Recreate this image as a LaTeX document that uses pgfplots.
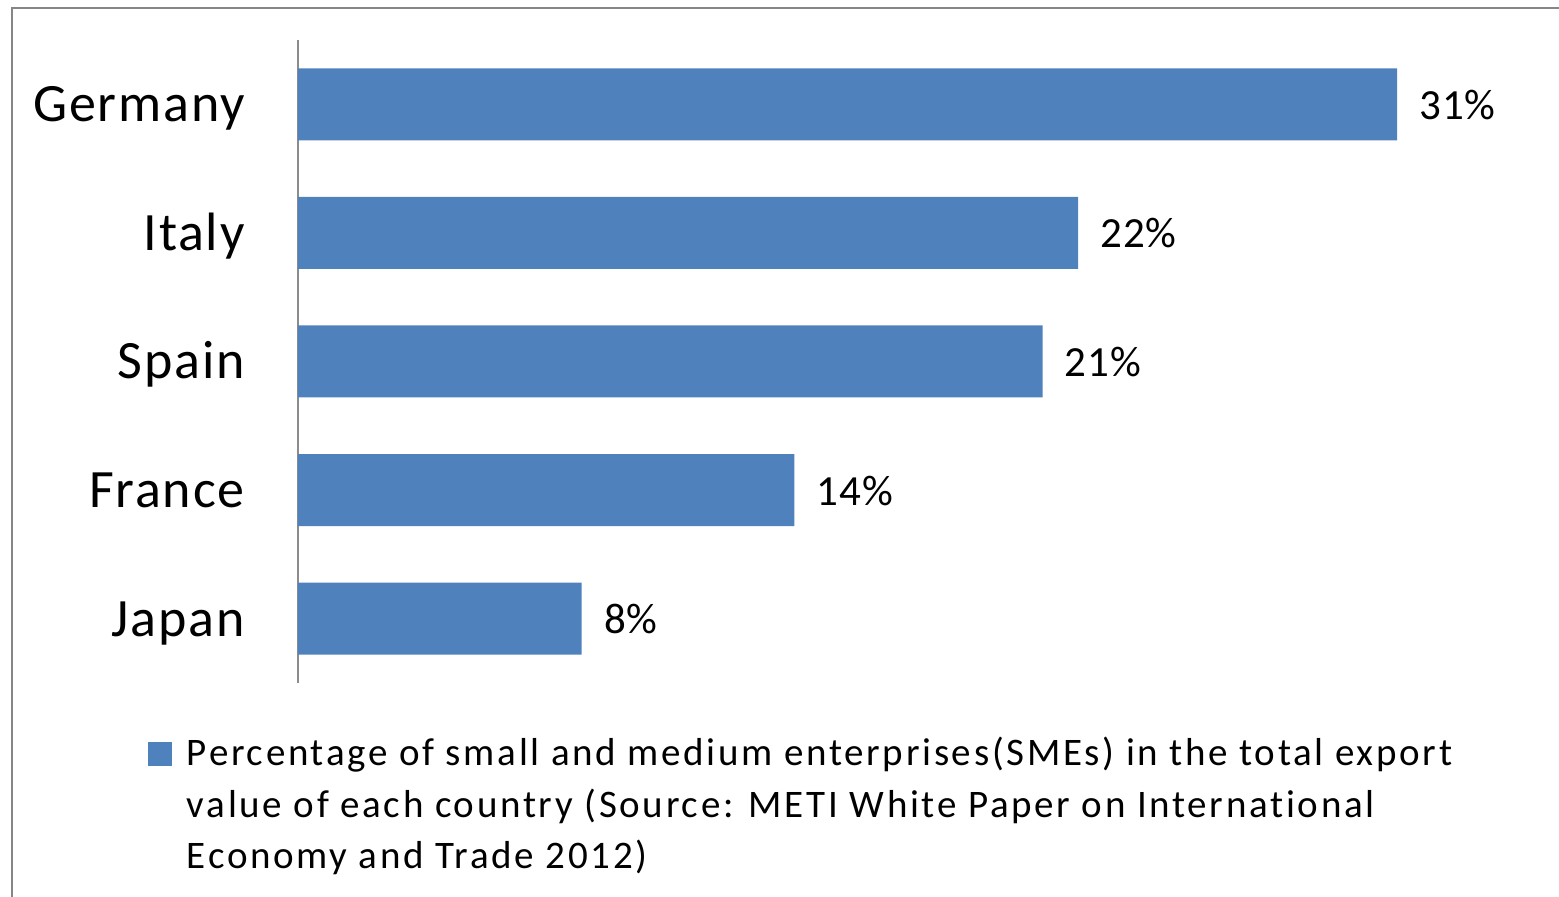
\documentclass[border=0pt]{standalone}
\usepackage{pgfplots}
\pgfplotsset{compat=1.18}
\usepackage{fontspec}
\setmainfont{Carlito}
\newfontfamily\ticklabfont[LetterSpace=3.3]{Carlito}
\newfontfamily\datafont[LetterSpace=2]{Carlito}
\newfontfamily\legfont[LetterSpace=6.9, Ligatures=NoCommon]{Carlito}
\definecolor{barblue}{RGB}{79,129,189}
\definecolor{framegray}{RGB}{134,134,134}
\definecolor{axisgray}{RGB}{140,140,140}
\begin{document}
\begin{tikzpicture}
\useasboundingbox (0pt,0pt) rectangle (779.5pt,448.5pt);
\draw[framegray, line width=1.3pt] (6pt,-5pt) -- (6pt,444.5pt) -- (790pt,444.5pt);
\begin{axis}[
  at={(149pt,107pt)}, anchor=south west,
  scale only axis, width=620.5pt, height=321.5pt,
  xbar, bar width=36pt,
  xmin=0, xmax=35, ymin=-0.5, ymax=4.5,
  axis x line=none,
  axis y line*=left,
  y axis line style={draw=axisgray, line width=0.9pt, -},
  ytick={0,1,2,3,4},
  yticklabels={Japan,France,Spain,Italy,Germany},
  major tick length=0pt,
  ytick style={draw=none},
  yticklabel style={font=\ticklabfont\fontsize{27}{32}\selectfont, anchor=base east, inner sep=0pt, yshift=-8.75pt},
  yticklabel shift=26.5pt,
  point meta=x,
  /pgf/number format/assume math mode=true,
  nodes near coords={\pgfmathprintnumber{\pgfplotspointmeta}\%},
  nodes near coords style={font=\datafont\fontsize{21.5}{26}\selectfont, anchor=base west, inner sep=0pt, xshift=11pt, yshift=-7.5pt},
  clip=false,
  legend image code/.code={\fill[barblue] (0pt,0pt) rectangle (12pt,12pt);},
  legend style={at={(axis description cs:-0.1209,-0.0778)}, anchor=north west, draw=none, fill=none, inner sep=0pt, outer sep=0pt, cells={anchor=base west, inner sep=0pt}, /tikz/column sep=5.5pt, font=\legfont\fontsize{19.5}{25.75}\selectfont},
]
\addplot[fill=barblue, draw=none] coordinates {(8,0) (14,1) (21,2) (22,3) (31,4)};
\addlegendentry{\parbox[t]{760pt}{Percentage of small and medium enterprises(SMEs) in the total export\\value of each country (Source: METI White Paper on International\\Economy and Trade 2012)}}
\end{axis}
\end{tikzpicture}
\end{document}
